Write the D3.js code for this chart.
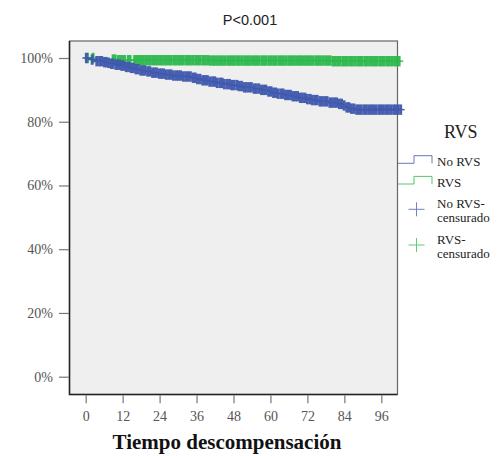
<!DOCTYPE html>
<html>
<head>
<meta charset="utf-8">
<script src="https://cdn.jsdelivr.net/npm/d3@7"></script>
<style>
  html, body { margin: 0; padding: 0; background: #ffffff; }
  svg { display: block; }
</style>
</head>
<body>
<svg id="chart" width="502" height="456"></svg>
<script>
// ---------------- data ----------------
const title = "P<0.001";
const xTitle = "Tiempo descompensación";
const xTicks = [0, 12, 24, 36, 48, 60, 72, 84, 96];
const yTicks = [0, 20, 40, 60, 80, 100];
const legendTitle = "RVS";
const seriesNames = ["No RVS", "RVS"];
const censorNames = [["No RVS-", "censurado"], ["RVS-", "censurado"]];

// Kaplan-Meier steps (months, % free of event)
const blueTimes = [0, 0.8, 1.6, 2.5, 3.4, 5.8, 6.9, 8.0, 9.5, 11.2, 12.8, 14.5, 16.0, 17.8, 19.5, 21.3, 23.5, 25.8, 28.0, 31.0, 34.5, 36.0, 37.5, 40.0, 42.5, 44.5, 47.0, 49.5, 51.0, 54.5, 57.0, 59.0, 60.5, 62.0, 64.5, 67.0, 69.0, 71.5, 73.5, 75.5, 79.0, 81.8, 83.5, 84.5, 86.0, 87.5, 102.8];
const blueSurv  = [100, 99.8, 99.5, 99.2, 99.0, 98.7, 98.5, 98.2, 97.9, 97.6, 97.2, 96.9, 96.5, 96.1, 95.8, 95.4, 95.1, 94.8, 94.5, 94.2, 93.8, 93.4, 93.0, 92.6, 92.2, 91.8, 91.5, 91.2, 90.8, 90.4, 90.0, 89.5, 89.1, 88.8, 88.4, 88.0, 87.5, 87.1, 86.8, 86.4, 86.0, 85.6, 85.1, 84.5, 84.1, 83.8, 83.8];
const greenTimes = [0, 2.5, 10.0, 40.0, 80.0, 102.2];
const greenSurv  = [100, 99.5, 99.3, 99.2, 99.0, 99.0];

// censored observations (months)
const blueCensor = [0.2, 2.1, 3.6, 4.5, 5.2, 6.1, 6.7, 7.4, 8.3, 8.9, 9.8, 10.4, 11.0, 11.7, 12.3, 13.2, 13.9, 14.8, 15.5, 16.3, 17.1, 17.9, 18.6, 19.2, 20.1, 20.8, 21.7, 22.4, 23.0, 23.9, 24.6, 25.3, 26.2, 27.0, 27.7, 28.5, 29.4, 30.1, 30.8, 31.7, 32.5, 33.2, 34.0, 34.9, 35.6, 36.3, 37.1, 38.0, 38.8, 39.5, 40.3, 41.2, 41.9, 42.7, 43.6, 44.3, 45.0, 45.9, 46.7, 47.4, 48.2, 49.1, 49.8, 50.6, 51.5, 52.2, 53.0, 53.8, 54.7, 55.4, 56.2, 57.1, 57.8, 58.5, 59.4, 60.2, 61.0, 61.7, 62.5, 63.4, 64.1, 64.9, 65.7, 66.5, 67.3, 68.1, 68.8, 69.7, 70.4, 71.2, 72.0, 72.9, 73.6, 74.4, 75.2, 76.1, 76.8, 77.6, 78.4, 79.3, 80.0, 80.8, 81.5, 82.4, 83.1, 83.9, 84.8, 85.5, 86.3, 87.1, 88.0, 88.7, 89.5, 90.4, 91.1, 91.9, 92.8, 93.5, 94.3, 95.2, 95.9, 96.7, 97.6, 98.3, 99.1, 100.0, 100.7, 101.5, 102.3];
const greenCensor = [0.6, 2.4, 8.9, 9.5, 10.5, 11.2, 11.9, 12.6, 13.8, 14.4, 15.9, 16.5, 17.2, 18.0, 18.7, 19.5, 20.4, 21.0, 21.8, 22.5, 23.3, 24.1, 24.8, 25.6, 26.3, 27.1, 27.8, 28.7, 29.4, 30.2, 30.9, 31.7, 32.6, 33.3, 34.0, 34.8, 35.7, 36.4, 37.2, 38.1, 38.8, 39.6, 40.5, 41.3, 42.0, 42.8, 43.7, 44.4, 45.2, 46.1, 46.8, 47.6, 48.3, 49.2, 49.9, 50.7, 51.6, 52.3, 53.1, 53.9, 54.8, 55.5, 56.3, 57.2, 57.9, 58.6, 59.5, 60.3, 61.1, 61.8, 62.7, 63.5, 64.2, 65.0, 65.9, 66.6, 67.4, 68.2, 69.1, 69.8, 70.6, 71.4, 72.3, 73.0, 73.8, 74.7, 75.4, 76.2, 77.0, 77.9, 78.6, 79.4, 80.3, 81.0, 81.8, 82.6, 83.5, 84.2, 85.0, 85.9, 86.6, 87.4, 88.3, 89.0, 89.8, 90.7, 91.4, 92.2, 93.1, 93.8, 94.6, 95.5, 96.2, 97.0, 97.9, 98.6, 99.4, 100.3, 101.0, 101.8];

const blueColor = "#3F58AD";
const greenColor = "#2DB84C";

// ---------------- layout ----------------
const svg = d3.select("#chart");
const plot = { left: 69.5, right: 397.5, top: 41, bottom: 394.5 };

const x = d3.scaleLinear().domain([0, 96]).range([85.7, 381.3]);
const y = d3.scaleLinear().domain([0, 100]).range([376.7, 58]);

// background
svg.append("rect")
  .attr("x", plot.left).attr("y", plot.top)
  .attr("width", plot.right - plot.left).attr("height", plot.bottom - plot.top)
  .attr("fill", "#EFEFEF").attr("stroke", "#666").attr("stroke-width", 1.2);
svg.append("path")
  .attr("d", `M${plot.left},${plot.top}V${plot.bottom}H${plot.right}`)
  .attr("fill", "none").attr("stroke", "#222").attr("stroke-width", 1.5);

// y axis
const yAxis = svg.append("g")
  .attr("transform", `translate(${plot.left - 0.5},0)`)
  .call(d3.axisLeft(y).tickValues(yTicks).tickSize(10).tickPadding(6).tickFormat(d => d + "%"));
yAxis.select(".domain").remove();
yAxis.selectAll("line").attr("stroke", "#777").attr("stroke-width", 1.2);
yAxis.selectAll("text").attr("font-family", "'Liberation Serif', 'Times New Roman', serif")
  .attr("font-size", 14).attr("fill", "#555");

// x axis
const xAxis = svg.append("g")
  .attr("transform", `translate(0,${plot.bottom + 0.8})`)
  .call(d3.axisBottom(x).tickValues(xTicks).tickSize(8).tickPadding(8));
xAxis.select(".domain").remove();
xAxis.selectAll("line").attr("stroke", "#777").attr("stroke-width", 1.2);
xAxis.selectAll("text").attr("font-family", "'Liberation Serif', 'Times New Roman', serif")
  .attr("font-size", 14).attr("fill", "#555");

// curves
function drawSeries(times, surv, censor, color) {
  const pts = times.map((t, i) => [t, surv[i]]);
  const line = d3.line().x(d => x(d[0])).y(d => y(d[1])).curve(d3.curveStepAfter);
  svg.append("path").attr("d", line(pts))
    .attr("fill", "none").attr("stroke", color).attr("stroke-width", 1.2);
  const survAt = t => {
    let v = surv[0];
    for (let i = 0; i < times.length; i++) if (times[i] <= t) v = surv[i];
    return v;
  };
  const g = svg.append("g").attr("stroke", color).attr("opacity", 0.95);
  censor.forEach(t => {
    const cx = x(t), cy = y(survAt(t));
    g.append("line").attr("x1", cx).attr("x2", cx).attr("y1", cy - 5.2).attr("y2", cy + 5.2).attr("stroke-width", 2.9);
    g.append("line").attr("x1", cx - 4).attr("x2", cx + 4).attr("y1", cy).attr("y2", cy).attr("stroke-width", 1.4);
  });
}
drawSeries(greenTimes, greenSurv, greenCensor, greenColor);
drawSeries(blueTimes, blueSurv, blueCensor, blueColor);

// title
svg.append("text").attr("x", 250).attr("y", 25).attr("text-anchor", "middle")
  .attr("font-family", "'Liberation Sans', Arial, sans-serif").attr("font-size", 14.5)
  .attr("fill", "#222").text(title);

// x title
svg.append("text").attr("x", 227).attr("y", 449).attr("text-anchor", "middle")
  .attr("font-family", "'Liberation Serif', 'Times New Roman', serif").attr("font-size", 21)
  .attr("font-weight", "bold").attr("fill", "#111").text(xTitle);

// legend
const serif = "'Liberation Serif', 'Times New Roman', serif";
svg.append("text").attr("x", 444).attr("y", 138).attr("font-family", serif)
  .attr("font-size", 18).attr("fill", "#222").text(legendTitle);

const legColors = [blueColor, greenColor];
const legY = [163.3, 184];
legColors.forEach((c, i) => {
  const yy = legY[i];
  svg.append("path").attr("d", `M398,${yy}H414V${yy - 7.6}H432V${yy}`)
    .attr("fill", "none").attr("stroke", c).attr("stroke-width", 1).attr("opacity", 0.8);
  svg.append("text").attr("x", 437).attr("y", yy + 2.7).attr("font-family", serif)
    .attr("font-size", 13).attr("fill", "#222").text(seriesNames[i]);
});
const crossY = [209.3, 245];
legColors.forEach((c, i) => {
  const cy = crossY[i], cx = 416.5;
  const g = svg.append("g").attr("stroke", c).attr("stroke-width", 1).attr("opacity", 0.75);
  g.append("line").attr("x1", cx - 8).attr("x2", cx + 8).attr("y1", cy).attr("y2", cy);
  g.append("line").attr("x1", cx).attr("x2", cx).attr("y1", cy - 7).attr("y2", cy + 7);
  const t = svg.append("text").attr("font-family", serif).attr("font-size", 13).attr("fill", "#222");
  t.append("tspan").attr("x", 437).attr("y", cy - 1.5).text(censorNames[i][0]);
  t.append("tspan").attr("x", 437).attr("y", cy + 12.7).text(censorNames[i][1]);
});
</script>
</body>
</html>
